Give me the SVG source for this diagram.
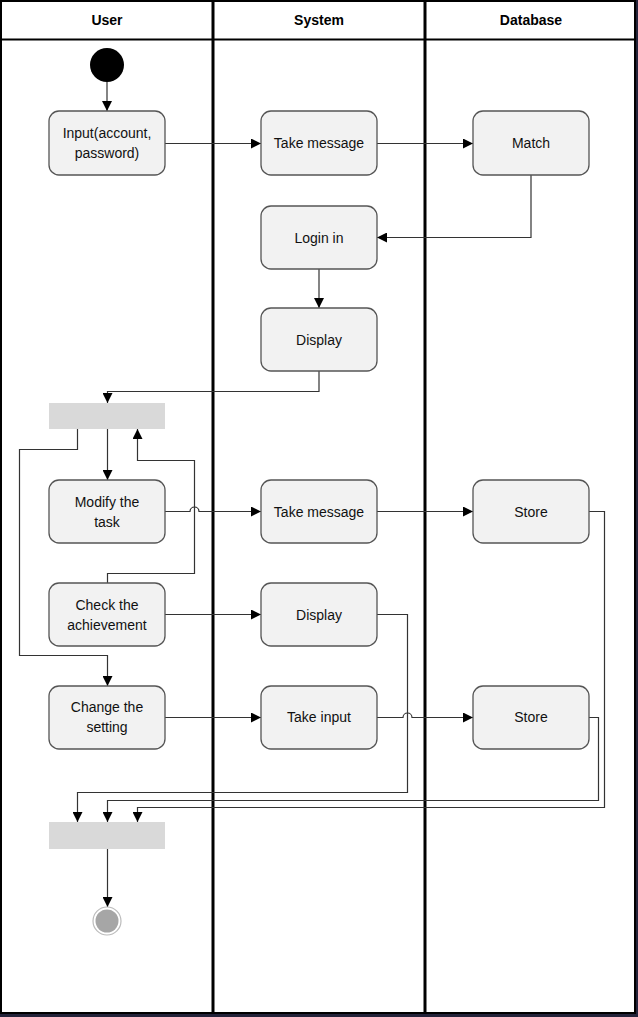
<svg xmlns="http://www.w3.org/2000/svg" width="638" height="1017" viewBox="0 0 638 1017">
  <defs>
    <marker id="arrow" viewBox="0 0 10 10" refX="10" refY="5" markerWidth="10" markerHeight="10" markerUnits="userSpaceOnUse" orient="auto">
      <path d="M0,0 L10,5 L0,10 Z" fill="#000"/>
    </marker>
    <style>
      .lane { fill: #fff; stroke: #000; stroke-width: 2; }
      .divider { stroke: #000; stroke-width: 3; }
      .head { font-family: "Liberation Sans", Arial, sans-serif; font-size: 14px; font-weight: bold; fill: #000; text-anchor: middle; }
      .act rect { fill: #f2f2f2; stroke: #555; stroke-width: 1.3; }
      .act text, .lbl { font-family: "Liberation Sans", Arial, sans-serif; font-size: 14px; fill: #111; text-anchor: middle; }
      .bar { fill: #d9d9d9; }
      .conn path { fill: none; stroke: #333; stroke-width: 1.2; }
      .conn .arr { marker-end: url(#arrow); }
    </style>
  </defs>

  <!-- frame -->
  <rect x="0" y="0" width="638" height="1017" fill="#23233a"/>
  <rect x="1" y="1" width="634" height="1012" class="lane"/>
  <line x1="1" y1="39.5" x2="635" y2="39.5" stroke="#000" stroke-width="2"/>
  <line x1="213" y1="1" x2="213" y2="1013" class="divider"/>
  <line x1="425" y1="1" x2="425" y2="1013" class="divider"/>

  <!-- lane headers -->
  <text class="head" x="107" y="25">User</text>
  <text class="head" x="319" y="25">System</text>
  <text class="head" x="531" y="25">Database</text>

  <!-- connectors -->
  <g id="connectors" class="conn">
    <path class="arr" d="M107,82 V111"/>
    <path class="arr" d="M165,143.5 H261"/>
    <path class="arr" d="M377,143.5 H473"/>
    <path class="arr" d="M531,175 V237.5 H377"/>
    <path class="arr" d="M319,269 V308"/>
    <path class="arr" d="M319,371 V391.5 H107.5 V403"/>
    <path class="arr" d="M107.5,429 V480"/>
    <path class="arr" d="M77.5,429 V449.5 H19.5 V655.5 H107.5 V686"/>
    <path class="arr" d="M107.5,583 V573.5 H194.5 V460.5 H137.5 V429"/>
    <path class="arr" d="M165,511.5 H190 A4.5,4.5 0 0 1 199,511.5 H261"/>
    <path class="arr" d="M377,511.5 H473"/>
    <path class="arr" d="M165,614.5 H261"/>
    <path class="arr" d="M165,717.5 H261"/>
    <path class="arr" d="M377,717.5 H403 A4.5,4.5 0 0 1 412,717.5 H473"/>
    <path class="arr" d="M377,614.5 H407.5 V792.5 H77.5 V822"/>
    <path class="arr" d="M589,717.5 H598.5 V800.5 H107.5 V822"/>
    <path class="arr" d="M589,511.5 H604.5 V807.5 H137.5 V822"/>
    <path class="arr" d="M107.5,849 V907"/>
  </g>

  <!-- start -->
  <g id="start">
    <circle cx="107" cy="65" r="17" fill="#000"/>
  </g>

  <g id="input" class="act">
    <rect x="49" y="111" width="116" height="64" rx="10"/>
    <text x="107" y="138">Input(account,</text>
    <text x="107" y="158">password)</text>
  </g>
  <g id="take-message-1" class="act">
    <rect x="261" y="111" width="116" height="64" rx="10"/>
    <text x="319" y="148">Take message</text>
  </g>
  <g id="match" class="act">
    <rect x="473" y="111" width="116" height="64" rx="10"/>
    <text x="531" y="148">Match</text>
  </g>
  <g id="login" class="act">
    <rect x="261" y="206" width="116" height="63" rx="10"/>
    <text x="319" y="243">Login in</text>
  </g>
  <g id="display-1" class="act">
    <rect x="261" y="308" width="116" height="63" rx="10"/>
    <text x="319" y="345">Display</text>
  </g>

  <g id="fork">
    <rect class="bar" x="49" y="403" width="116" height="26"/>
  </g>

  <g id="modify" class="act">
    <rect x="49" y="480" width="116" height="63" rx="10"/>
    <text x="107" y="507">Modify the</text>
    <text x="107" y="527">task</text>
  </g>
  <g id="take-message-2" class="act">
    <rect x="261" y="480" width="116" height="63" rx="10"/>
    <text x="319" y="517">Take message</text>
  </g>
  <g id="store-1" class="act">
    <rect x="473" y="480" width="116" height="63" rx="10"/>
    <text x="531" y="517">Store</text>
  </g>

  <g id="check" class="act">
    <rect x="49" y="583" width="116" height="63" rx="10"/>
    <text x="107" y="610">Check the</text>
    <text x="107" y="630">achievement</text>
  </g>
  <g id="display-2" class="act">
    <rect x="261" y="583" width="116" height="63" rx="10"/>
    <text x="319" y="620">Display</text>
  </g>

  <g id="change" class="act">
    <rect x="49" y="686" width="116" height="63" rx="10"/>
    <text x="107" y="712">Change the</text>
    <text x="107" y="732">setting</text>
  </g>
  <g id="take-input" class="act">
    <rect x="261" y="686" width="116" height="63" rx="10"/>
    <text x="319" y="722">Take input</text>
  </g>
  <g id="store-2" class="act">
    <rect x="473" y="686" width="116" height="63" rx="10"/>
    <text x="531" y="722">Store</text>
  </g>

  <g id="join">
    <rect class="bar" x="49" y="822" width="116" height="27"/>
  </g>

  <g id="end">
    <circle cx="107" cy="921" r="14" fill="#fff" stroke="#bbb" stroke-width="1.2"/>
    <circle cx="107" cy="921" r="11.5" fill="#a6a6a6"/>
  </g>
</svg>
